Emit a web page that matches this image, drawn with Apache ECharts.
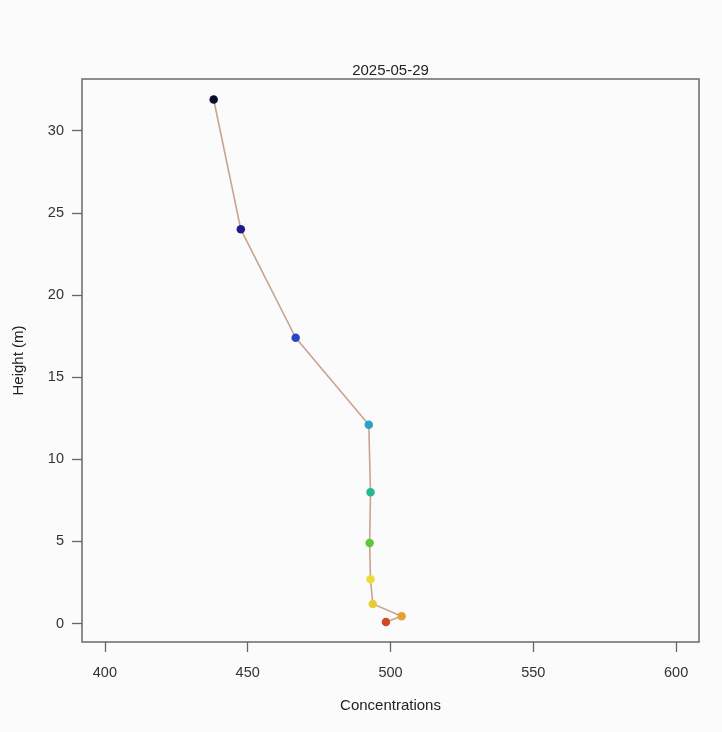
<!DOCTYPE html>
<html>
<head>
<meta charset="utf-8">
<script src="https://cdn.jsdelivr.net/npm/echarts@6/dist/echarts.min.js"></script>
<style>
  html, body { margin: 0; padding: 0; background: #fbfbfb; }
  #chart { width: 722px; height: 732px; }
</style>
</head>
<body>
<div id="chart"></div>
<script>
const chartTitle = '2025-05-29';
const concentrations = [438.1, 447.6, 466.8, 492.4, 493.0, 492.7, 493.0, 493.8, 503.9, 498.4];
const heights = [31.9, 24.0, 17.4, 12.1, 8.0, 4.9, 2.7, 1.2, 0.45, 0.1];
const pointColors = ['#0b0b2e', '#1c1c8a', '#2449c8', '#2ba3c4', '#25b98c', '#5ec83a', '#ecdc3a', '#e9cb34', '#e8a130', '#cf4a22'];
const xTicks = [400, 450, 500, 550, 600];
const yTicks = [0, 5, 10, 15, 20, 25, 30];

const chart = echarts.init(document.getElementById('chart'), null, { renderer: 'canvas' });
const font = '"Liberation Sans", Arial, sans-serif';

const seriesData = concentrations.map((c, i) => ({
  value: [c, heights[i]],
  itemStyle: { color: pointColors[i] }
}));

chart.setOption({
  backgroundColor: '#fbfbfb',
  animation: false,
  title: {
    text: chartTitle,
    left: 390.5, top: 63, textAlign: 'center', padding: 0,
    textStyle: { fontFamily: font, fontSize: 15, fontWeight: 'normal', color: '#222' }
  },
  grid: {
    left: 82, top: 79, right: 23, bottom: 90,
    show: true, borderColor: '#6a6a6a', borderWidth: 1.5, backgroundColor: 'transparent'
  },
  xAxis: {
    type: 'value', min: 392, max: 608,
    name: 'Concentrations', nameLocation: 'middle', nameGap: 56,
    nameTextStyle: { fontFamily: font, fontSize: 15, color: '#222' },
    axisLine: { show: false, onZero: false },
    splitLine: { show: false },
    axisTick: { show: true, inside: false, length: 10, customValues: xTicks, lineStyle: { color: '#666', width: 1.3 } },
    axisLabel: { customValues: xTicks, margin: 23, fontFamily: font, fontSize: 14.5, color: '#333' }
  },
  yAxis: {
    type: 'value', min: -1.12, max: 33.15,
    name: 'Height (m)', nameLocation: 'middle', nameGap: 56, nameRotate: 90,
    nameTextStyle: { fontFamily: font, fontSize: 15, color: '#222' },
    axisLine: { show: false, onZero: false },
    splitLine: { show: false },
    axisTick: { show: true, inside: false, length: 10, customValues: yTicks, lineStyle: { color: '#666', width: 1.3 } },
    axisLabel: { customValues: yTicks, margin: 18, fontFamily: font, fontSize: 14.5, color: '#333' }
  },
  series: [{
    type: 'line',
    data: seriesData,
    symbol: 'circle',
    symbolSize: 8.5,
    lineStyle: { color: '#c8a38f', width: 1.6 },
    itemStyle: { borderWidth: 0 },
    z: 3
  }]
});
</script>
</body>
</html>
